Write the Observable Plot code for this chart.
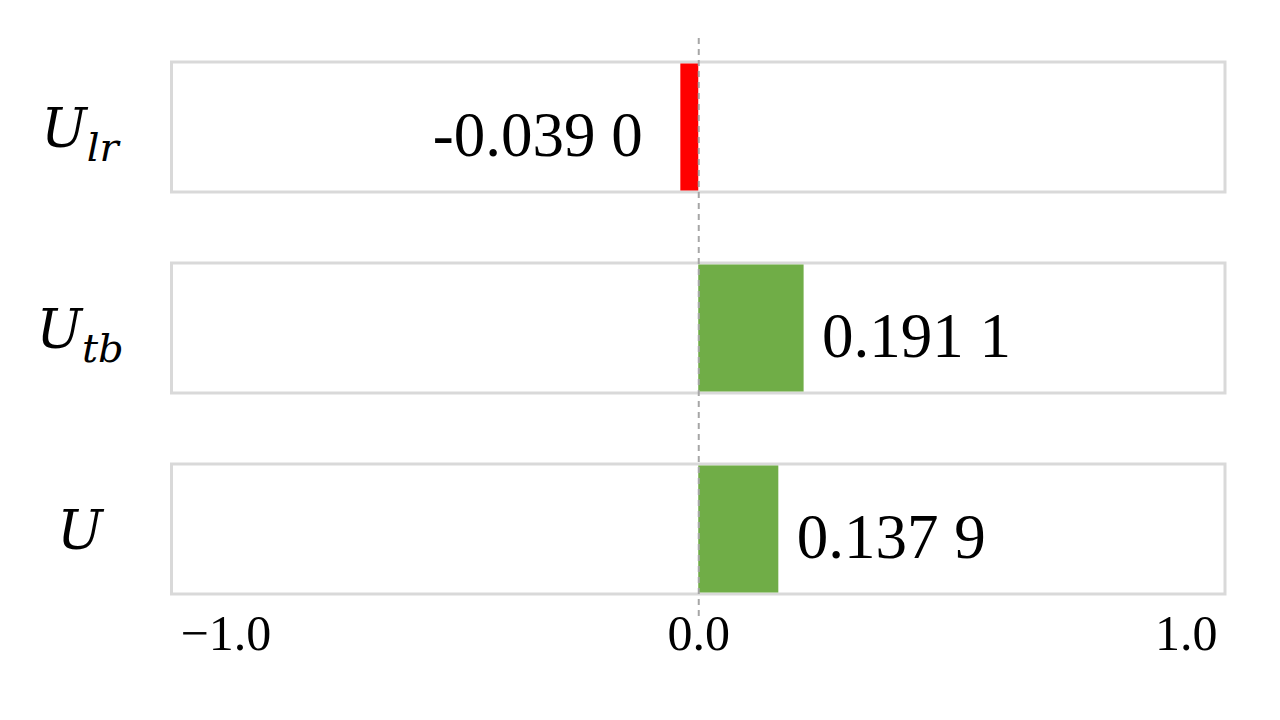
<!DOCTYPE html>
<html>
<head>
<meta charset="utf-8">
<script src="https://cdn.jsdelivr.net/npm/d3@7"></script>
<script src="https://cdn.jsdelivr.net/npm/@observablehq/plot@0.6"></script>
<style>
  html, body { margin: 0; padding: 0; background: #fff; }
  #chart { width: 1280px; height: 720px; }
</style>
</head>
<body>
<div id="chart"></div>
<script>
// Categories (top to bottom)
const categories = ["U_lr", "U_tb", "U"];
const labelMain = ["U", "U", "U"];
const labelSub = ["lr", "tb", ""];
// Bar lengths as drawn in the picture
const barValues = [-0.034, 0.200, 0.152];
// Value label texts
const valueTexts = ["-0.039 0", "0.191 1", "0.137 9"];
// Axis ticks
const tickValues = [-1, 0, 1];
const tickLabels = ["\u22121.0", "0.0", "1.0"];

const rows = categories.map((c, i) => ({
  cat: c, value: barValues[i], text: valueTexts[i], main: labelMain[i], sub: labelSub[i]
}));
const ticks = tickValues.map((v, i) => ({v, label: tickLabels[i]}));

const serif = "'Liberation Serif', 'Times New Roman', serif";

const chart = Plot.plot({
  width: 1280,
  height: 720,
  marginLeft: 171.5,
  marginRight: 55,
  marginTop: 62,
  marginBottom: 125,
  style: {fontFamily: serif, background: "white"},
  x: {domain: [-1, 1], axis: null},
  y: {type: "band", domain: categories, paddingInner: 0.353, paddingOuter: 0, axis: null},
  marks: [
    // row frames
    Plot.barX(rows, {x1: -1, x2: 1, y: "cat", fill: "white", stroke: "#d9d9d9", strokeWidth: 3}),
    // bars
    Plot.barX(rows, {x: "value", y: "cat", fill: d => d.value < 0 ? "#ff0000" : "#70ad47", insetTop: 1.5, insetBottom: 1.5}),
    // zero dashed line
    Plot.ruleX([0], {stroke: "#a6a6a6", strokeWidth: 2, strokeDasharray: "6,5", insetTop: -24, insetBottom: -23}),
    // value labels (positive)
    Plot.text(rows.filter(d => d.value >= 0), {x: "value", y: "cat", text: "text", textAnchor: "start", dx: 18, dy: 8, fontSize: 63, fill: "black"}),
    // value labels (negative)
    Plot.text(rows.filter(d => d.value < 0), {x: "value", y: "cat", text: "text", textAnchor: "end", dx: -38, dy: 8, fontSize: 63, fill: "black"}),
    // y labels (marker prefix replaced below with tspans)
    Plot.text(rows, {y: "cat", text: d => "\u00a7" + d.cat, frameAnchor: "left", dx: -92, dy: 2, textAnchor: "middle", fontSize: 54, fontStyle: "italic", fontFamily: "'DejaVu Serif', serif", fill: "black"}),
    // x tick labels
    Plot.text(ticks.filter(d => d.v < 0), {x: "v", text: "label", frameAnchor: "bottom", textAnchor: "start", dx: 8.5, dy: 54, fontSize: 50, fill: "black"}),
    Plot.text(ticks.filter(d => d.v === 0), {x: "v", text: "label", frameAnchor: "bottom", textAnchor: "middle", dy: 54, fontSize: 50, fill: "black"}),
    Plot.text(ticks.filter(d => d.v > 0), {x: "v", text: "label", frameAnchor: "bottom", textAnchor: "end", dx: -8, dy: 54, fontSize: 50, fill: "black"})
  ]
});

// Add subscripts to the y labels
d3.select(chart).selectAll("text").each(function() {
  const content = this.textContent;
  if (!content.startsWith("\u00a7")) return;
  const cat = content.slice(1);
  const r = rows.find(d => d.cat === cat);
  const t = d3.select(this);
  t.text(null);
  t.append("tspan").text(r.main);
  if (r.sub) {
    t.append("tspan").attr("font-size", 40).attr("dy", 14).text(r.sub);
  }
});

document.getElementById("chart").appendChild(chart);
</script>
</body>
</html>
